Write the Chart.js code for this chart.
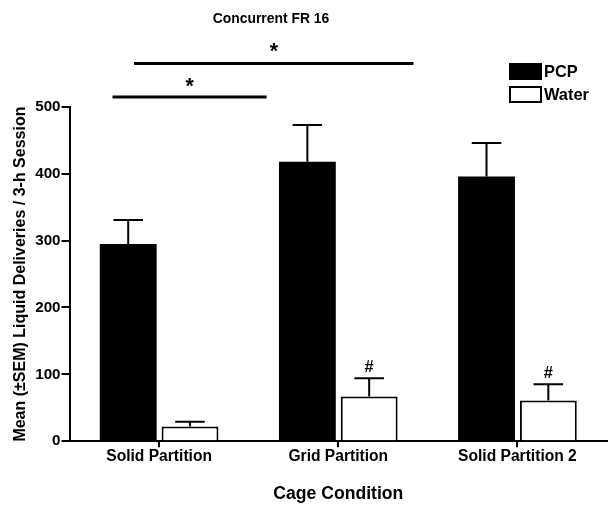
<!DOCTYPE html>
<html>
<head>
<meta charset="utf-8">
<script src="https://cdn.jsdelivr.net/npm/chart.js@4"></script>
<style>
  html, body { margin: 0; padding: 0; background: #fff; }
  #wrap { width: 612px; height: 505px; position: relative; }
</style>
</head>
<body>
<div id="wrap"><canvas id="chart"></canvas></div>
<script>
// data
const categories = ['Solid Partition', 'Grid Partition', 'Solid Partition 2'];
const pcpMeans = [295, 418, 396];
const pcpSem = [36, 55, 50];
const waterMeans = [22, 67, 61];
const waterSem = [7, 27, 24];
const waterMarks = ['', '#', '#'];
const yTicks = [0, 100, 200, 300, 400, 500];

// pick the condensed font if it exists, else shrink the normal one
function hasFont(name) {
    const c = document.createElement('canvas').getContext('2d');
    c.font = 'bold 20px monospace';
    const a = c.measureText('Solid Partition 2').width;
    c.font = `bold 20px "${name}", monospace`;
    return c.measureText('Solid Partition 2').width !== a;
}
const NARROW = hasFont('Liberation Sans Narrow');
const FAMILY = NARROW ? '"Liberation Sans Narrow", "Liberation Sans", Arial, sans-serif' : '"Liberation Sans", Arial, sans-serif';
const K = NARROW ? 1 : 0.82;
const fs = s => Math.round(s * K * 10) / 10;

Chart.defaults.font.family = FAMILY;
Chart.defaults.font.weight = 'bold';
Chart.defaults.color = '#000';

// error bars (upward only) + # marks
const errorBars = {
    id: 'errorBars',
    afterDatasetsDraw(chart) {
        const ctx = chart.ctx;
        const y = chart.scales.y;
        const sems = [pcpSem, waterSem];
        ctx.save();
        ctx.strokeStyle = '#000';
        ctx.lineWidth = 2;
        chart.data.datasets.forEach((ds, d) => {
            const meta = chart.getDatasetMeta(d);
            meta.data.forEach((bar, i) => {
                const top = y.getPixelForValue(ds.data[i] + sems[d][i]);
                const half = bar.width * 0.26;
                ctx.beginPath();
                ctx.moveTo(bar.x, bar.y);
                ctx.lineTo(bar.x, top);
                ctx.moveTo(bar.x - half, top);
                ctx.lineTo(bar.x + half, top);
                ctx.stroke();
                if (d === 1 && waterMarks[i]) {
                    ctx.font = `bold ${fs(20)}px ${FAMILY}`;
                    ctx.fillStyle = '#000';
                    ctx.textAlign = 'center';
                    ctx.textBaseline = 'middle';
                    ctx.fillText(waterMarks[i], bar.x, top - 11);
                }
            });
        });
        ctx.restore();
    }
};

// title, significance brackets, legend
const extras = {
    id: 'extras',
    afterDraw(chart) {
        const ctx = chart.ctx;
        const x = chart.scales.x;
        const y = chart.scales.y;
        const area = chart.chartArea;
        ctx.save();
        ctx.fillStyle = '#000';
        ctx.strokeStyle = '#000';
        ctx.textAlign = 'center';
        ctx.textBaseline = 'middle';

        ctx.font = `bold ${fs(17)}px ${FAMILY}`;
        ctx.fillText('Concurrent FR 16', 271, 19);

        // [fromIndex, toIndex, lineValue, starValue]
        const brackets = [[-0.14, 1.42, 565, 588], [-0.26, 0.60, 515, 536]];
        ctx.lineWidth = 3;
        brackets.forEach(([a, b, v, s]) => {
            const x0 = x.getPixelForValue(a), x1 = x.getPixelForValue(b);
            ctx.beginPath();
            ctx.moveTo(x0, y.getPixelForValue(v));
            ctx.lineTo(x1, y.getPixelForValue(v));
            ctx.stroke();
            ctx.font = `bold ${fs(26)}px ${FAMILY}`;
            ctx.fillText('*', (x0 + x1) / 2, y.getPixelForValue(s) + 4);
        });

        // legend
        const lx = area.right - 97;
        ctx.font = `bold ${fs(20)}px ${FAMILY}`;
        ctx.textAlign = 'left';
        chart.data.datasets.forEach((ds, d) => {
            const top = 64 + d * 23;
            ctx.fillStyle = ds.backgroundColor;
            ctx.fillRect(lx, top, 31, 15);
            ctx.lineWidth = 2;
            ctx.strokeRect(lx, top, 31, 15);
            ctx.fillStyle = '#000';
            ctx.fillText(ds.label, lx + 34, top + 8);
        });
        ctx.restore();
    }
};

new Chart(document.getElementById('chart'), {
    type: 'bar',
    data: {
        labels: categories,
        datasets: [
            { label: 'PCP', data: pcpMeans, backgroundColor: '#000', borderColor: '#000', borderWidth: 0 },
            { label: 'Water', data: waterMeans, backgroundColor: '#fff', borderColor: '#000', borderWidth: 2 }
        ]
    },
    options: {
        responsive: true,
        maintainAspectRatio: false,
        animation: false,
        categoryPercentage: 0.69,
        barPercentage: 0.92,
        layout: { padding: { top: 107, right: 5, left: 11, bottom: 0 } },
        plugins: {
            legend: { display: false },
            title: { display: false },
            tooltip: { enabled: false }
        },
        scales: {
            x: {
                grid: { display: true, offset: false, drawOnChartArea: false, drawTicks: true, tickLength: 6, color: '#000', lineWidth: 2 },
                border: { display: true, color: '#000', width: 2 },
                ticks: { font: { size: fs(19), weight: 'bold' }, padding: 0, maxRotation: 0 },
                title: { display: true, text: 'Cage Condition', font: { size: fs(21.5), weight: 'bold' }, padding: { top: 18, bottom: 0 } }
            },
            y: {
                min: 0,
                max: 500,
                afterBuildTicks: axis => { axis.ticks = yTicks.map(v => ({ value: v })); },
                grid: { display: true, drawOnChartArea: false, drawTicks: true, tickLength: 8, color: '#000', lineWidth: 2 },
                border: { display: true, color: '#000', width: 2 },
                ticks: { font: { size: fs(18.5), weight: 'bold' }, padding: 1 },
                title: { display: true, text: 'Mean (±SEM) Liquid Deliveries / 3-h Session', font: { size: fs(19.5), weight: 'bold' }, padding: { top: 0, bottom: 4 } }
            }
        }
    },
    plugins: [errorBars, extras]
});
</script>
</body>
</html>
